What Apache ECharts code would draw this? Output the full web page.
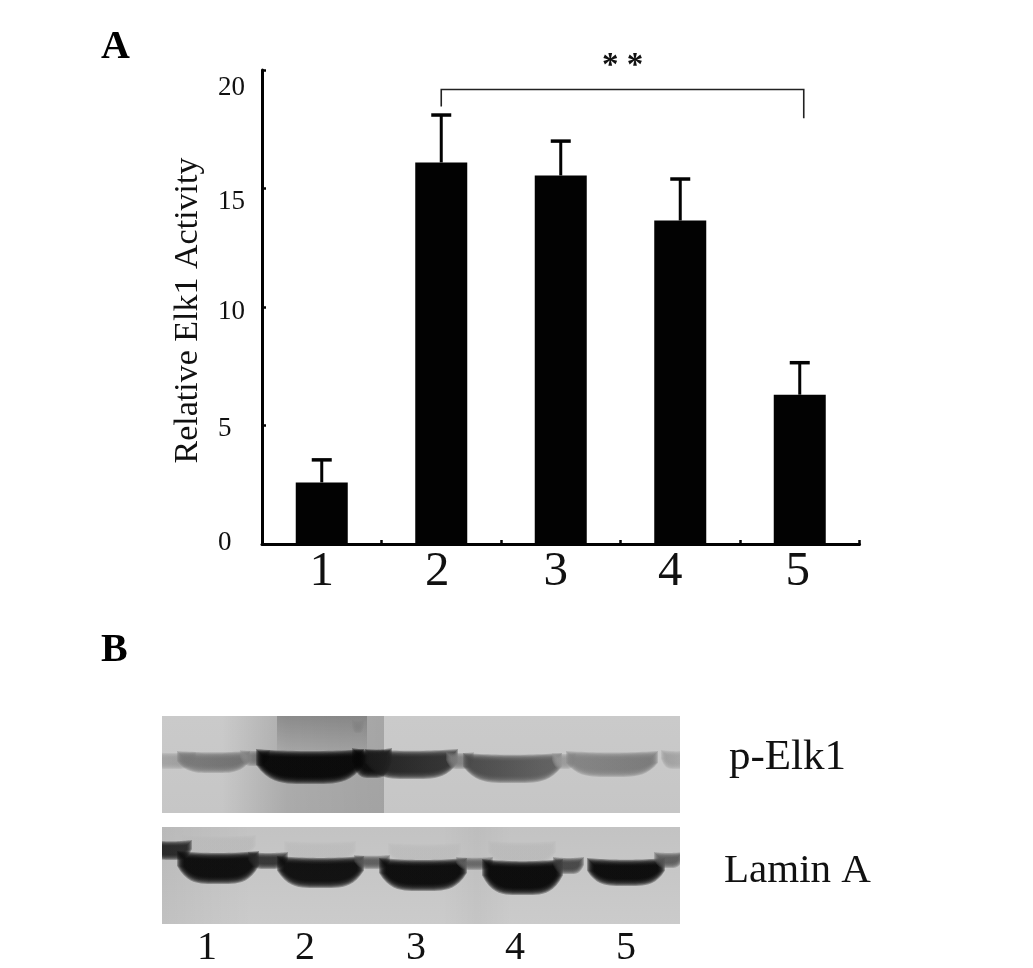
<!DOCTYPE html>
<html>
<head>
<meta charset="utf-8">
<style>html,body{margin:0;padding:0;background:#fff}#c{width:1033px;height:968px}</style>
<script src="https://cdn.jsdelivr.net/npm/echarts@6/dist/echarts.min.js"></script>
</head>
<body>
<div id="c"></div>
<script>
// ---- Panel A data ----
const categories = ['1', '2', '3', '4', '5'];
const activity = [2.6, 16.1, 15.55, 13.65, 6.3];
const errorTop = [3.55, 18.1, 17.0, 15.4, 7.65];
const yTicks = [0, 5, 10, 15, 20];
const bracketLanes = [1, 4];
const bracketLevel = 19.18;
const bracketEnds = [18.46, 17.96];
const bracketMark = '* *';

// ---- Panel B data (densitometric bands): from, to, top, bottom, grey left, grey right ----
const laneCentres = [45, 143, 254, 353, 464];
const laneLabels = ['1', '2', '3', '4', '5'];
const pElk1Bands = [
  [-10, 30, 40, 49, 165, 150],
  [19, 84, 39, 53, 120, 110],
  [82, 104, 38, 46, 140, 80],
  [194, 198, 8, 13, 130, 130],
  [98, 198, 37, 64, 4, 4],
  [194, 226, 36, 58, 6, 12],
  [207, 292, 37, 59, 28, 48],
  [288, 308, 40, 49, 125, 125],
  [305, 396, 41, 63, 70, 95],
  [394, 410, 41, 49, 150, 150],
  [408, 492, 39, 57, 130, 120],
  [503, 526, 38, 49, 155, 170]
];
const laminBands = [
  [24, 90, 12, 28, 186, 186],
  [126, 190, 18, 32, 188, 188],
  [230, 295, 20, 34, 188, 188],
  [330, 390, 18, 34, 186, 186],
  [-8, 26, 17, 29, 25, 30],
  [19, 93, 28, 53, 8, 8],
  [90, 122, 29, 38, 40, 40],
  [119, 198, 33, 57, 10, 10],
  [196, 224, 32, 38, 85, 85],
  [221, 301, 35, 60, 6, 6],
  [298, 327, 34, 39, 95, 95],
  [324, 397, 36, 64, 4, 4],
  [395, 418, 34, 43, 60, 60],
  [429, 499, 35, 55, 5, 5],
  [496, 517, 29, 37, 85, 85]
];
const pElk1Strips = [[0, 518, 202, 198]];
const laminStrips = [[0, 518, 195, 203]];
// shading over a blot: from, to, alpha at start, alpha at end, 0 across / 1 downwards
const pElk1Shades = [
  [60, 125, 0, 0.14, 0], [125, 222, 0.14, 0.18, 0],
  [115, 205, 0.2, 0, 1]
];
const laminShades = [[0, 90, 0.05, 0, 0], [280, 315, 0, 0.03, 0], [315, 350, 0.03, 0, 0]];
const proteinLabels = ['p-Elk1', 'Lamin A'];
const panelLetters = ['A', 'B'];

const serif = '"Liberation Serif","Times New Roman",serif';
const ink = '#020202';

// per-label nudges, as these labels were hand-placed in the figure
const yShift = { 0: -1, 5: 3, 10: 5, 15: 13, 20: 18 };
const xShift = { 1: 0, 2: -4, 3: -5, 4: -10, 5: -2 };
const yRich = {}, xRich = {};
yTicks.forEach(v => {
  const d = yShift[v];
  yRich['v' + v] = { fontFamily: serif, fontSize: 27, color: '#111', padding: d >= 0 ? [2 * d, 0, 0, 0] : [0, 0, -2 * d, 0] };
});
categories.forEach(c => {
  const d = xShift[c];
  xRich['c' + c] = { fontFamily: serif, fontSize: 49, color: '#111', padding: [0, -2 * d, 0, 0] };
});

const grey = g => 'rgb(' + g + ',' + g + ',' + g + ')';

function renderError(params, api) {
  const x = api.value(0);
  const base = api.coord([x, api.value(1)]);
  const top = api.coord([x, api.value(2)]);
  return {
    type: 'group',
    children: [
      { type: 'line', shape: { x1: base[0], y1: base[1], x2: top[0], y2: top[1] }, style: { stroke: ink, lineWidth: 3 } },
      { type: 'line', shape: { x1: top[0] - 10, y1: top[1], x2: top[0] + 10, y2: top[1] }, style: { stroke: ink, lineWidth: 3.5 } }
    ]
  };
}

function renderBracket(params, api) {
  const a = api.coord([bracketLanes[0], bracketLevel]);
  const b = api.coord([bracketLanes[1], bracketLevel]);
  const la = api.coord([bracketLanes[0], bracketEnds[0]]);
  const lb = api.coord([bracketLanes[1], bracketEnds[1]]);
  const rx = b[0] + 4;
  return {
    type: 'group',
    children: [
      { type: 'polyline', shape: { points: [[a[0], la[1]], [a[0], a[1]], [rx, a[1]], [rx, lb[1]]] }, style: { stroke: '#222', lineWidth: 1.6, fill: null } },
      { type: 'text', style: { text: bracketMark, x: (a[0] + rx) / 2, y: a[1] - 23, align: 'center', verticalAlign: 'middle', font: 'bold 33px ' + serif, fill: '#111' } }
    ]
  };
}

function renderStrip(params, api) {
  const p0 = api.coord([api.value(0), 0]);
  const p1 = api.coord([api.value(1), 97]);
  return {
    type: 'rect',
    shape: { x: p0[0], y: p0[1], width: p1[0] - p0[0], height: p1[1] - p0[1] },
    style: { fill: { type: 'linear', x: 0, y: 0, x2: 0, y2: 1, colorStops: [{ offset: 0, color: grey(api.value(2)) }, { offset: 1, color: grey(api.value(3)) }] } }
  };
}

function renderShade(params, api) {
  const down = api.value(4);
  const p0 = api.coord([api.value(0), 0]);
  const p1 = api.coord([api.value(1), down ? 45 : 97]);
  return {
    type: 'rect',
    shape: { x: p0[0], y: p0[1], width: p1[0] - p0[0], height: p1[1] - p0[1] },
    style: { fill: { type: 'linear', x: 0, y: 0, x2: down ? 0 : 1, y2: down ? 1 : 0, colorStops: [
      { offset: 0, color: 'rgba(0,0,0,' + api.value(2) + ')' },
      { offset: 1, color: 'rgba(0,0,0,' + api.value(3) + ')' }
    ] } }
  };
}

// A band is a stack of translucent outlines, which gives the soft film edge.
const softLayers = [4, 3, 2, 1, 0, -1, -2, -3];
function renderBand(params, api) {
  const x0 = api.value(0), x1 = api.value(1), t = api.value(2), b = api.value(3);
  const fill = { type: 'linear', x: 0, y: 0, x2: 1, y2: 0, colorStops: [{ offset: 0, color: grey(api.value(4)) }, { offset: 1, color: grey(api.value(5)) }] };
  const thin = b - t < 14;
  const children = softLayers.filter(e => !thin || e > -2).map(e => {
    const xa = x0 - e, xb = x1 + e, ta = t - e, ba = b + e;
    const h = ba - ta, pts = [], n = 24;
    for (let i = 0; i <= n; i++) {
      const u = 2 * i / n - 1;
      pts.push(api.coord([(xa + xb) / 2 + u * (xb - xa) / 2, ta + 0.06 * h * (1 - u * u)]));
    }
    for (let i = n; i >= 0; i--) {
      const u = 2 * i / n - 1;
      pts.push(api.coord([(xa + xb) / 2 + u * (xb - xa) / 2, ba - 0.55 * h * Math.pow(Math.abs(u), 4)]));
    }
    return { type: 'polygon', shape: { points: pts }, style: { fill: fill, opacity: 0.32 } };
  });
  return { type: 'group', children: children };
}

const blotAxisBase = { type: 'value', min: 0, max: 518, axisLine: { show: false }, axisTick: { show: false }, splitLine: { show: false } };
const blotY = { type: 'value', min: 0, max: 97, inverse: true, axisLine: { show: false }, axisTick: { show: false }, axisLabel: { show: false }, splitLine: { show: false } };

const option = {
  animation: false,
  backgroundColor: '#fff',
  grid: [
    { left: 262, top: 70, width: 597.5, height: 474 },
    { left: 162, top: 716, width: 518, height: 97 },
    { left: 162, top: 827, width: 518, height: 97 }
  ],
  xAxis: [
    {
      type: 'category', gridIndex: 0, data: categories,
      axisLine: { lineStyle: { color: ink, width: 3 } },
      axisTick: { show: true, inside: true, length: 4, interval: 0, lineStyle: { color: ink, width: 2.5 } },
      axisLabel: { margin: 4, interval: 0, formatter: v => '{c' + v + '|' + v + '}', rich: xRich }
    },
    Object.assign({ gridIndex: 1, axisLabel: { show: false } }, blotAxisBase),
    Object.assign({ gridIndex: 2, axisLabel: {
      show: true, customValues: laneCentres, margin: 4,
      formatter: v => laneLabels[laneCentres.indexOf(v)] || '',
      fontFamily: serif, fontSize: 40, color: '#111'
    } }, blotAxisBase)
  ],
  yAxis: [
    {
      type: 'value', gridIndex: 0, min: 0, max: 20, interval: 5,
      name: 'Relative Elk1 Activity', nameLocation: 'middle', nameGap: 57,
      nameTextStyle: { fontFamily: serif, fontSize: 34, color: '#111', padding: [0, 7, 0, 0] },
      axisLine: { show: true, lineStyle: { color: ink, width: 3 } },
      axisTick: { show: true, inside: true, length: 4, lineStyle: { color: ink, width: 2.5 } },
      splitLine: { show: false },
      axisLabel: { align: 'left', margin: 44, formatter: v => '{v' + v + '|' + v + '}', rich: yRich }
    },
    Object.assign({ gridIndex: 1 }, blotY),
    Object.assign({ gridIndex: 2 }, blotY)
  ],
  series: [
    { name: 'Relative Elk1 Activity', type: 'bar', xAxisIndex: 0, yAxisIndex: 0, data: activity, barWidth: 52, itemStyle: { color: ink } },
    {
      type: 'custom', xAxisIndex: 0, yAxisIndex: 0, z: 3, renderItem: renderError,
      data: categories.map((c, i) => [i, activity[i], errorTop[i]]), encode: { x: 0, y: [1, 2] }
    },
    { type: 'custom', xAxisIndex: 0, yAxisIndex: 0, z: 4, renderItem: renderBracket, data: [[bracketLanes[0], bracketLevel]], encode: { x: 0, y: 1 } },
    { type: 'custom', xAxisIndex: 1, yAxisIndex: 1, z: 1, renderItem: renderStrip, data: pElk1Strips, clip: true, encode: { x: [0, 1] } },
    { type: 'custom', xAxisIndex: 1, yAxisIndex: 1, z: 1, renderItem: renderShade, data: pElk1Shades, clip: true, encode: { x: [0, 1] } },
    { type: 'custom', xAxisIndex: 1, yAxisIndex: 1, z: 2, renderItem: renderBand, data: pElk1Bands, clip: true, encode: { x: [0, 1], y: [2, 3] } },
    { type: 'custom', xAxisIndex: 2, yAxisIndex: 2, z: 1, renderItem: renderStrip, data: laminStrips, clip: true, encode: { x: [0, 1] } },
    { type: 'custom', xAxisIndex: 2, yAxisIndex: 2, z: 1, renderItem: renderShade, data: laminShades, clip: true, encode: { x: [0, 1] } },
    { type: 'custom', xAxisIndex: 2, yAxisIndex: 2, z: 2, renderItem: renderBand, data: laminBands, clip: true, encode: { x: [0, 1], y: [2, 3] } }
  ],
  graphic: [
    { type: 'text', left: 101, top: 28, style: { text: panelLetters[0], font: 'bold 40px ' + serif, fill: '#000' } },
    { type: 'text', left: 101, top: 631, style: { text: panelLetters[1], font: 'bold 40px ' + serif, fill: '#000' } },
    { type: 'text', left: 729, top: 736, style: { text: proteinLabels[0], font: '43px ' + serif, fill: '#111' } },
    { type: 'text', left: 724, top: 851, style: { text: proteinLabels[1], font: '41px ' + serif, fill: '#111' } }
  ]
};
echarts.init(document.getElementById('c'), null, { renderer: 'canvas' }).setOption(option);
</script>
</body>
</html>
